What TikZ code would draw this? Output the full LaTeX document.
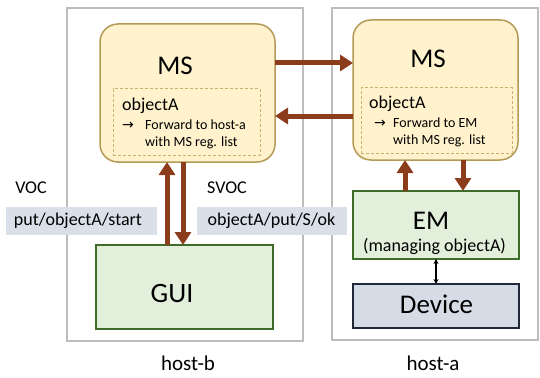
\documentclass[tikz,border=0pt]{standalone}
\usepackage{fontspec}
\setmainfont{Carlito}
\newfontfamily\symfont{DejaVu Sans}
\usetikzlibrary{arrows.meta}
\definecolor{hostgray}{HTML}{BDBDBD}
\definecolor{msfill}{HTML}{FFF2CC}
\definecolor{msline}{HTML}{B39B57}
\definecolor{dashline}{HTML}{C8B172}
\definecolor{greenfill}{HTML}{E2EFDA}
\definecolor{greenline}{HTML}{3F6B2B}
\definecolor{devfill}{HTML}{D6DCE5}
\definecolor{devline}{HTML}{1F2937}
\definecolor{msgfill}{HTML}{DAE0EA}
\definecolor{flowbrown}{HTML}{8B3C1B}
\begin{document}
\begin{tikzpicture}[x=1pt,y=-1pt,
  hostbox/.style={draw=hostgray, line width=2.5pt, inner sep=0pt, outer sep=0pt},
  msbox/.style={draw=msline, fill=msfill, line width=1.5pt, rounded corners=18pt, inner sep=0pt, outer sep=0pt},
  dashbox/.style={draw=dashline, dashed, dash pattern=on 3pt off 2pt, line width=1pt, inner sep=0pt, outer sep=0pt},
  greenbox/.style={draw=greenline, fill=greenfill, line width=1.8pt, inner sep=0pt, outer sep=0pt},
  devbox/.style={draw=devline, fill=devfill, line width=1.8pt, inner sep=0pt, outer sep=0pt},
  msgbox/.style={fill=msgfill, inner sep=0pt, outer sep=0pt},
  flow/.style={draw=flowbrown, line width=5pt, -{Triangle[width=16pt,length=13pt]}},
  link/.style={draw=black, line width=1.2pt, {Stealth[width=5pt,length=5pt]}-{Stealth[width=5pt,length=5pt]}},
  bigtxt/.style={anchor=base, inner sep=0pt, font=\fontsize{27}{30}\selectfont},
  objtxt/.style={anchor=base west, inner sep=0pt, font=\fontsize{18}{21}\selectfont},
  fwdtxt/.style={anchor=base west, inner sep=0pt, font=\fontsize{14}{17}\selectfont},
  midtxt/.style={anchor=base, inner sep=0pt, font=\fontsize{18}{21}\selectfont},
  labtxt/.style={anchor=base, inner sep=0pt, font=\fontsize{18}{21}\selectfont},
  hosttxt/.style={anchor=base, inner sep=0pt, font=\fontsize{21}{24}\selectfont}]
\useasboundingbox (0,0) rectangle (540,377);

% hosts
\node[hostbox, minimum width=236pt, minimum height=333pt] (hostB) at (185,174.5) {};
\node[hostbox, minimum width=206pt, minimum height=332pt] (hostA) at (435,174) {};

% message servers
\node[msbox, minimum width=175pt, minimum height=138pt] (msB) at (187.5,93) {};
\node[msbox, minimum width=165pt, minimum height=140pt] (msA) at (435.5,90) {};
\node[dashbox, minimum width=147pt, minimum height=66pt] (dashB) at (186.5,122) {};
\node[dashbox, minimum width=151pt, minimum height=65pt] (dashA) at (436.5,120.5) {};

% lower boxes
\node[greenbox, minimum width=177pt, minimum height=84pt] (gui) at (184.5,287) {};
\node[greenbox, minimum width=166pt, minimum height=68pt] (em) at (436,225) {};
\node[devbox, minimum width=166pt, minimum height=44pt] (dev) at (436,306) {};

% message labels
\node[msgbox, minimum width=151pt, minimum height=28pt] (vocmsg) at (81.5,221) {};
\node[msgbox, minimum width=150pt, minimum height=28pt] (svocmsg) at (272,221) {};

% texts in MS boxes
\node[bigtxt] (msBt) at (175,75) {MS};
\node[bigtxt] (msAt) at (428,68) {MS};
\node[objtxt] (objB) at (122,110.7) {objectA};
\node[fwdtxt] (arrB) at (122,129.3) {\symfont →};
\node[fwdtxt] (fwdB1) at (145,129.3) {Forward to host-a};
\node[fwdtxt] (fwdB2) at (145,146) {with MS reg. list};
\node[objtxt] (objA) at (369,109) {objectA};
\node[fwdtxt] (arrA) at (374,127) {\symfont →};
\node[fwdtxt] (fwdA1) at (393,127) {Forward to EM};
\node[fwdtxt] (fwdA2) at (393,144) {with MS reg. list};

% texts in lower boxes
\node[bigtxt, font=\fontsize{28}{31}\selectfont] (guit) at (172,302) {GUI};
\node[bigtxt] (emt) at (431,229) {EM};
\node[midtxt] (emsub) at (434.5,251) {(managing objectA)};
\node[bigtxt] (devt) at (436.5,313) {Device};

% message texts
\node[labtxt] (voc) at (31,193) {VOC};
\node[labtxt] (svoc) at (227,193) {SVOC};
\node[midtxt] (voct) at (78,225) {put/objectA/start};
\node[midtxt] (svoct) at (271.5,225) {objectA/put/S/ok};

% host labels
\node[hosttxt] (hostBt) at (188,370) {host-b};
\node[hosttxt] (hostAt) at (433,370) {host-a};

% flows
\draw[flow] (msB.east |- 0,63) -- (msA.west |- 0,63);
\draw[flow] (msA.west |- 0,116) -- (msB.east |- 0,116);
\draw[flow] (gui.north -| 167,0) -- (msB.south -| 167,0);
\draw[flow] (msB.south -| 183,0) -- (gui.north -| 183,0);
\draw[flow] (em.north -| 405,0) -- (msA.south -| 405,0);
\draw[flow] (msA.south -| 463,0) -- (em.north -| 463,0);
\draw[link] (em.south) -- (dev.north);
\end{tikzpicture}
\end{document}
